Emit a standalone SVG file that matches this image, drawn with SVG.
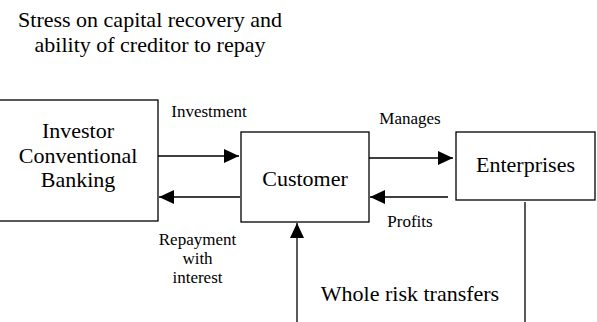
<svg xmlns="http://www.w3.org/2000/svg" width="597" height="322" viewBox="0 0 597 322">
<defs>
<style>
.big{font-size:22px}
.small{font-size:17px}
.box{fill:#fff;stroke:#000;stroke-width:1.3}
.ln{stroke:#000;stroke-width:1.3;fill:none}
</style>
<marker id="ah" viewBox="0 0 15 14" refX="15" refY="7" markerWidth="15" markerHeight="14" markerUnits="userSpaceOnUse" orient="auto">
<path d="M0,0 L15,7 L0,14 Z" fill="#000"/>
</marker>
</defs>
<rect width="597" height="322" fill="#fff"/>
<g font-family="Liberation Serif, Times New Roman, serif" fill="#000">
<g id="title">
<text class="big" x="150" y="27" text-anchor="middle">Stress on capital recovery and</text>
<text class="big" x="150" y="52" text-anchor="middle">ability of creditor to repay</text>
</g>
<g id="investor">
<rect class="box" x="-5" y="100" width="163" height="121"/>
<text class="big" x="78" y="138" text-anchor="middle">Investor</text>
<text class="big" x="78" y="163" text-anchor="middle">Conventional</text>
<text class="big" x="78" y="187" text-anchor="middle">Banking</text>
</g>
<g id="customer">
<rect class="box" x="241" y="132" width="128" height="90"/>
<text class="big" x="305" y="186" text-anchor="middle">Customer</text>
</g>
<g id="enterprises">
<rect class="box" x="456" y="132" width="139" height="68"/>
<text class="big" x="525.5" y="172" text-anchor="middle">Enterprises</text>
</g>
<g id="connectors">
<line class="ln" x1="158" y1="156" x2="239" y2="156" marker-end="url(#ah)"/>
<line class="ln" x1="240" y1="197" x2="159" y2="197" marker-end="url(#ah)"/>
<line class="ln" x1="369" y1="158" x2="453" y2="158" marker-end="url(#ah)"/>
<line class="ln" x1="448" y1="197" x2="370" y2="197" marker-end="url(#ah)"/>
<line class="ln" x1="297" y1="322" x2="297" y2="223" marker-end="url(#ah)"/>
<line class="ln" x1="525" y1="202" x2="525" y2="322"/>
</g>
<g id="labels">
<text class="small" x="209" y="117" text-anchor="middle">Investment</text>
<text class="small" x="410" y="124" text-anchor="middle">Manages</text>
<text class="small" x="410" y="227" text-anchor="middle">Profits</text>
<text class="small" x="197.5" y="245" text-anchor="middle">Repayment</text>
<text class="small" x="197.5" y="264" text-anchor="middle">with</text>
<text class="small" x="197.5" y="283" text-anchor="middle">interest</text>
<text class="big" x="410" y="301" text-anchor="middle">Whole risk transfers</text>
</g>
</g>
</svg>
